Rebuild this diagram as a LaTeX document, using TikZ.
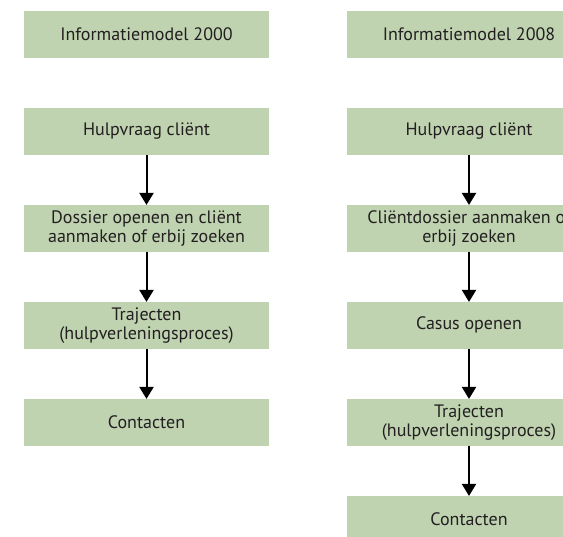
\documentclass[tikz,border=0pt]{standalone}
\usepackage{fontspec}
\setmainfont{PT Sans}
\usetikzlibrary{arrows.meta}
\definecolor{boxgreen}{RGB}{191,211,177}
\definecolor{txt}{RGB}{35,31,32}
\begin{document}
\begin{tikzpicture}[x=1pt,y=-1pt,
  box/.style={fill=boxgreen,draw=none,minimum width=244.4pt,minimum height=46.7pt,
    inner sep=0pt,outer sep=0pt,align=center,text=txt,
    font=\fontsize{18}{19}\selectfont},
  flow/.style={draw=black,line width=2pt,-{Triangle[width=14pt,length=12pt]}}]
\useasboundingbox (0,0) rectangle (563,537);
% left column
\node[box] (l0) at (146.5,34.5) {Informatiemodel 2000};
\node[box] (l1) at (146.5,131.5) {Hulpvraag cliënt};
\node[box] (l2) at (146.5,228.3) {Dossier openen en cliënt\\aanmaken of erbij zoeken};
\node[box] (l3) at (146.5,325.3) {Trajecten\\(hulpverleningsproces)};
\node[box] (l4) at (146.5,422.3) {Contacten};
\draw[flow] (l1) -- (l2);
\draw[flow] (l2) -- (l3);
\draw[flow] (l3) -- (l4);
% right column
\node[box] (r0) at (469,34.5) {Informatiemodel 2008};
\node[box] (r1) at (469,131.5) {Hulpvraag cliënt};
\node[box] (r2) at (469,228.3) {Cliëntdossier aanmaken of\\erbij zoeken};
\node[box] (r3) at (469,325.3) {Casus openen};
\node[box] (r4) at (469,422.3) {Trajecten\\(hulpverleningsproces)};
\node[box] (r5) at (469,519.3) {Contacten};
\draw[flow] (r1) -- (r2);
\draw[flow] (r2) -- (r3);
\draw[flow] (r3) -- (r4);
\draw[flow] (r4) -- (r5);
\end{tikzpicture}
\end{document}
